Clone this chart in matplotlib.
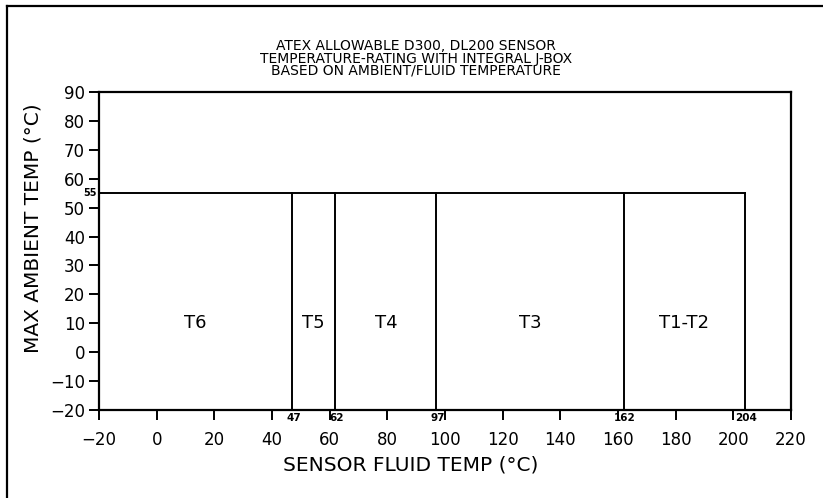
import matplotlib
matplotlib.use("Agg")
import matplotlib.pyplot as plt
from matplotlib.lines import Line2D

# temperature class limits (sensor fluid temp, deg C)
class_limits = [47, 62, 97, 162, 204]
class_names = ["T6", "T5", "T4", "T3", "T1-T2"]
x_min = -20
max_ambient = 55
y_min = -20
label_y = 10

x_ticks = list(range(-20, 221, 20))
y_ticks = list(range(-20, 91, 10))

title_lines = [
    "ATEX ALLOWABLE D300, DL200 SENSOR",
    "TEMPERATURE-RATING WITH INTEGRAL J-BOX",
    "BASED ON AMBIENT/FLUID TEMPERATURE",
]

fig = plt.figure(figsize=(8.23, 4.98), dpi=100)
ax = fig.add_axes([99 / 823, 1 - 410 / 498, 692 / 823, 318 / 498])

ax.set_xlim(-20, 220)
ax.set_ylim(-20, 90)

# ambient limit line and class boundaries
ax.plot([x_min, class_limits[-1]], [max_ambient, max_ambient], color="black", lw=1.4)
for x in class_limits:
    ax.plot([x, x], [y_min, max_ambient], color="black", lw=1.4)

# class labels centred in each band
edges = [x_min] + class_limits
for i, name in enumerate(class_names):
    xc = (edges[i] + edges[i + 1]) / 2
    ax.text(xc, label_y, name, ha="center", va="center", fontsize=13)

# small value labels under the axis
for x in class_limits:
    ax.annotate(str(x), xy=(x, y_min), xytext=(1, -2.5), textcoords="offset points",
                ha="center", va="top", fontsize=7.5, fontweight="bold",
                annotation_clip=False)
ax.annotate(str(max_ambient), xy=(-20, max_ambient), xytext=(-1.5, 0),
            textcoords="offset points", ha="right", va="center",
            fontsize=7, fontweight="bold", annotation_clip=False)

ax.set_xticks(x_ticks)
ax.set_yticks(y_ticks)
ax.tick_params(axis="both", direction="out", length=7, width=1.4,
               labelsize=12, color="black")
ax.tick_params(axis="x", pad=8)
ax.tick_params(axis="y", pad=3)
for sp in ax.spines.values():
    sp.set_linewidth(1.6)

fig.text(33 / 823, 1 - 228 / 498, "MAX AMBIENT TEMP (°C)", rotation=90,
         fontsize=14.5, ha="center", va="center")
fig.text(411 / 823, 1 - 465 / 498, "SENSOR FLUID TEMP (°C)", fontsize=14.5,
         ha="center", va="center")

for i, line in enumerate(title_lines):
    fig.text(416 / 823, 1 - (46 + 12.5 * i) / 498, line, fontsize=10,
             ha="center", va="center")

# drawing frame (left and top edges)
fig.add_artist(Line2D([7 / 823, 7 / 823], [0, 1 - 6 / 498], color="black",
                      lw=1.6, transform=fig.transFigure))
fig.add_artist(Line2D([7 / 823, 1], [1 - 6 / 498, 1 - 6 / 498], color="black",
                      lw=1.6, transform=fig.transFigure))

fig.savefig("out.png", dpi=100)
